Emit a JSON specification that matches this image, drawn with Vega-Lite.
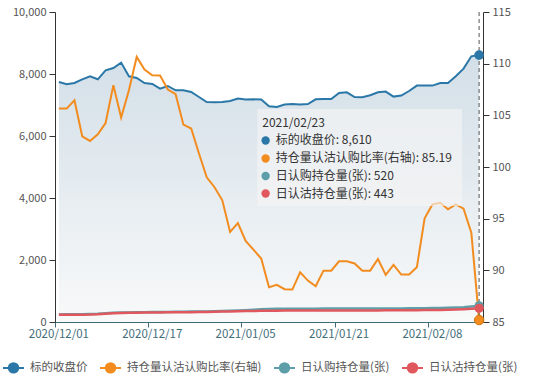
{
  "$schema": "https://vega.github.io/schema/vega-lite/v6.json",
  "width": 428,
  "height": 310,
  "autosize": {"type": "none"},
  "padding": {"left": 55, "top": 12, "right": 60, "bottom": 59},
  "config": {
    "font": "Noto Sans CJK SC",
    "view": {"stroke": null},
    "axis": {"grid": false, "labelFontSize": 11, "title": null, "domainColor": "#333", "tickColor": "#333", "labelColor": "#555", "tickSize": 6, "labelPadding": 3}
  },
  "datasets": {
    "main": [
      {"date": "2020/12/01", "c": 7742, "r": 105.65, "call": 245, "put": 232},
      {"date": "2020/12/02", "c": 7667, "r": 105.65, "call": 246, "put": 233},
      {"date": "2020/12/03", "c": 7710, "r": 106.46, "call": 248, "put": 235},
      {"date": "2020/12/04", "c": 7829, "r": 102.97, "call": 250, "put": 237},
      {"date": "2020/12/07", "c": 7925, "r": 102.52, "call": 255, "put": 240},
      {"date": "2020/12/08", "c": 7829, "r": 103.16, "call": 265, "put": 250},
      {"date": "2020/12/09", "c": 8119, "r": 104.26, "call": 282, "put": 268},
      {"date": "2020/12/10", "c": 8194, "r": 107.91, "call": 296, "put": 282},
      {"date": "2020/12/11", "c": 8367, "r": 104.78, "call": 304, "put": 292},
      {"date": "2020/12/14", "c": 7925, "r": 107.42, "call": 310, "put": 298},
      {"date": "2020/12/15", "c": 7871, "r": 110.65, "call": 314, "put": 302},
      {"date": "2020/12/16", "c": 7710, "r": 109.43, "call": 318, "put": 305},
      {"date": "2020/12/17", "c": 7677, "r": 108.87, "call": 320, "put": 307},
      {"date": "2020/12/18", "c": 7529, "r": 108.85, "call": 323, "put": 310},
      {"date": "2020/12/21", "c": 7613, "r": 107.49, "call": 326, "put": 312},
      {"date": "2020/12/22", "c": 7474, "r": 107.04, "call": 329, "put": 314},
      {"date": "2020/12/23", "c": 7474, "r": 104.1, "call": 332, "put": 316},
      {"date": "2020/12/24", "c": 7419, "r": 103.72, "call": 335, "put": 318},
      {"date": "2020/12/25", "c": 7258, "r": 101.3, "call": 338, "put": 320},
      {"date": "2020/12/28", "c": 7097, "r": 99.0, "call": 342, "put": 325},
      {"date": "2020/12/29", "c": 7087, "r": 98.04, "call": 348, "put": 330},
      {"date": "2020/12/30", "c": 7097, "r": 96.78, "call": 355, "put": 336},
      {"date": "2020/12/31", "c": 7129, "r": 93.71, "call": 363, "put": 342},
      {"date": "2021/01/04", "c": 7206, "r": 94.58, "call": 372, "put": 348},
      {"date": "2021/01/05", "c": 7174, "r": 92.84, "call": 382, "put": 352},
      {"date": "2021/01/06", "c": 7184, "r": 92.0, "call": 395, "put": 356},
      {"date": "2021/01/07", "c": 7174, "r": 91.14, "call": 408, "put": 360},
      {"date": "2021/01/08", "c": 6958, "r": 88.37, "call": 418, "put": 364},
      {"date": "2021/01/11", "c": 6935, "r": 88.6, "call": 424, "put": 366},
      {"date": "2021/01/12", "c": 7013, "r": 88.17, "call": 426, "put": 367},
      {"date": "2021/01/13", "c": 7032, "r": 88.14, "call": 428, "put": 368},
      {"date": "2021/01/14", "c": 7013, "r": 89.81, "call": 429, "put": 368},
      {"date": "2021/01/15", "c": 7032, "r": 89.01, "call": 430, "put": 369},
      {"date": "2021/01/18", "c": 7184, "r": 88.46, "call": 431, "put": 370},
      {"date": "2021/01/19", "c": 7194, "r": 89.97, "call": 432, "put": 370},
      {"date": "2021/01/20", "c": 7194, "r": 89.97, "call": 432, "put": 371},
      {"date": "2021/01/21", "c": 7387, "r": 90.87, "call": 433, "put": 372},
      {"date": "2021/01/22", "c": 7410, "r": 90.87, "call": 434, "put": 372},
      {"date": "2021/01/25", "c": 7258, "r": 90.67, "call": 434, "put": 373},
      {"date": "2021/01/26", "c": 7248, "r": 89.97, "call": 435, "put": 373},
      {"date": "2021/01/27", "c": 7313, "r": 89.97, "call": 436, "put": 374},
      {"date": "2021/01/28", "c": 7410, "r": 91.1, "call": 437, "put": 375},
      {"date": "2021/01/29", "c": 7432, "r": 89.56, "call": 438, "put": 376},
      {"date": "2021/02/01", "c": 7271, "r": 90.52, "call": 438, "put": 377},
      {"date": "2021/02/02", "c": 7303, "r": 89.59, "call": 439, "put": 378},
      {"date": "2021/02/03", "c": 7452, "r": 89.59, "call": 440, "put": 379},
      {"date": "2021/02/04", "c": 7626, "r": 90.29, "call": 442, "put": 381},
      {"date": "2021/02/05", "c": 7626, "r": 95.04, "call": 445, "put": 384},
      {"date": "2021/02/08", "c": 7626, "r": 96.38, "call": 448, "put": 387},
      {"date": "2021/02/09", "c": 7710, "r": 96.54, "call": 452, "put": 390},
      {"date": "2021/02/10", "c": 7710, "r": 95.9, "call": 456, "put": 394},
      {"date": "2021/02/18", "c": 7926, "r": 96.38, "call": 465, "put": 400},
      {"date": "2021/02/19", "c": 8174, "r": 95.96, "call": 478, "put": 410},
      {"date": "2021/02/22", "c": 8571, "r": 93.65, "call": 498, "put": 425},
      {"date": "2021/02/23", "c": 8610, "r": 85.19, "call": 520, "put": 443}
    ]
  },
  "data": {"name": "main"},
  "encoding": {
    "x": {
      "field": "date", "type": "ordinal",
      "scale": {"type": "band", "paddingInner": 0, "paddingOuter": 0},
      "axis": {
        "values": ["2020/12/01", "2020/12/17", "2021/01/05", "2021/01/21", "2021/02/08"],
        "bandPosition": 0, "labelAngle": 0, "labelColor": "#3f6e7a", "domainColor": "#3f6e7a", "tickColor": "#3f6e7a",
        "tickSize": 5, "labelPadding": 1, "labelFontSize": 11.5, "grid": false
      }
    }
  },
  "layer": [
    {
      "layer": [
        {
          "mark": {"type": "area", "color": {"gradient": "linear", "x1": 0, "y1": 0, "x2": 0, "y2": 1, "stops": [{"offset": 0, "color": "#d3dfe8"}, {"offset": 1, "color": "#f8f9f9"}]}},
          "encoding": {
            "y": {"field": "c", "type": "quantitative", "scale": {"domain": [0, 10000], "nice": false}, "axis": {"values": [0, 2000, 4000, 6000, 8000, 10000], "format": ",d"}}
          }
        },
        {
          "mark": {"type": "line", "strokeWidth": 2.5},
          "encoding": {
            "y": {"field": "call", "type": "quantitative", "scale": {"domain": [0, 10000], "nice": false}},
            "color": {"datum": "日认购持仓量(张)", "type": "nominal"}
          }
        },
        {
          "mark": {"type": "line", "strokeWidth": 2.5},
          "encoding": {
            "y": {"field": "put", "type": "quantitative", "scale": {"domain": [0, 10000], "nice": false}},
            "color": {"datum": "日认沽持仓量(张)", "type": "nominal"}
          }
        },
        {
          "mark": {"type": "line", "strokeWidth": 2},
          "encoding": {
            "y": {"field": "c", "type": "quantitative", "scale": {"domain": [0, 10000], "nice": false}},
            "color": {
              "datum": "标的收盘价", "type": "nominal",
              "scale": {
                "domain": ["标的收盘价", "持仓量认沽认购比率(右轴)", "日认购持仓量(张)", "日认沽持仓量(张)"],
                "range": ["#2b78a8", "#f28c1f", "#5d9ea9", "#e0585d"]
              },
              "legend": {
                "orient": "none", "legendX": -53, "legendY": 344, "direction": "horizontal", "title": null,
                "symbolType": "M-1,0L-0.45,0M0.45,0L1,0M-0.45,0A0.45,0.45,0,1,1,0.45,0A0.45,0.45,0,1,1,-0.45,0",
                "symbolSize": 440, "symbolStrokeWidth": 2, "labelFontSize": 11.5, "labelColor": "#555",
                "labelOffset": 5, "columnPadding": 8,
                "encode": {"symbols": {"update": {"fill": {"scale": "color", "field": "value"}, "fillOpacity": {"value": 1}}}}
              }
            }
          }
        }
      ]
    },
    {
      "layer": [
        {
          "mark": {"type": "line", "strokeWidth": 2},
          "encoding": {
            "y": {"field": "r", "type": "quantitative", "scale": {"domain": [85, 115], "nice": false}, "axis": {"orient": "right", "values": [85, 90, 95, 100, 105, 110, 115], "format": "d"}},
            "color": {"datum": "持仓量认沽认购比率(右轴)", "type": "nominal"}
          }
        }
      ]
    },
    {
      "layer": [
        {
          "data": {"values": [{}]},
          "mark": {"type": "rect", "fill": "#f4f4f4", "opacity": 0.65},
          "encoding": {
            "x": {"datum": "2021/01/07", "type": "ordinal", "bandPosition": 0},
            "x2": {"datum": "2021/02/19", "bandPosition": 0.3},
            "y": {"datum": 6871, "type": "quantitative", "scale": {"domain": [0, 10000], "nice": false}, "axis": null},
            "y2": {"datum": 3740}
          }
        },
        {
          "data": {"values": [{}]},
          "mark": {"type": "text", "text": "2021/02/23", "align": "left", "baseline": "middle", "fontSize": 12, "color": "#333", "dx": 1},
          "encoding": {
            "x": {"datum": "2021/01/07", "type": "ordinal"},
            "y": {"datum": 6419, "type": "quantitative", "scale": {"domain": [0, 10000], "nice": false}, "axis": null}
          }
        },
        {
          "data": {"values": [{}]},
          "mark": {"type": "text", "text": ["标的收盘价: 8,610", "持仓量认沽认购比率(右轴): 85.19", "日认购持仓量(张): 520", "日认沽持仓量(张): 443"], "lineHeight": 17.7, "align": "left", "baseline": "middle", "fontSize": 12, "color": "#333", "dx": 14.5},
          "encoding": {
            "x": {"datum": "2021/01/07", "type": "ordinal"},
            "y": {"datum": 5855, "type": "quantitative", "scale": {"domain": [0, 10000], "nice": false}, "axis": null}
          }
        },
        {
          "data": {"values": [{}]},
          "mark": {"type": "point", "shape": "circle", "filled": true, "opacity": 1, "size": 70, "color": "#2b78a8", "xOffset": 4.4},
          "encoding": {
            "x": {"datum": "2021/01/07", "type": "ordinal"},
            "y": {"datum": 5855, "type": "quantitative", "scale": {"domain": [0, 10000], "nice": false}, "axis": null}
          }
        },
        {
          "data": {"values": [{}]},
          "mark": {"type": "point", "shape": "circle", "filled": true, "opacity": 1, "size": 70, "color": "#f28c1f", "xOffset": 4.4},
          "encoding": {
            "x": {"datum": "2021/01/07", "type": "ordinal"},
            "y": {"datum": 5274, "type": "quantitative", "scale": {"domain": [0, 10000], "nice": false}, "axis": null}
          }
        },
        {
          "data": {"values": [{}]},
          "mark": {"type": "point", "shape": "circle", "filled": true, "opacity": 1, "size": 70, "color": "#5d9ea9", "xOffset": 4.4},
          "encoding": {
            "x": {"datum": "2021/01/07", "type": "ordinal"},
            "y": {"datum": 4710, "type": "quantitative", "scale": {"domain": [0, 10000], "nice": false}, "axis": null}
          }
        },
        {
          "data": {"values": [{}]},
          "mark": {"type": "point", "shape": "circle", "filled": true, "opacity": 1, "size": 70, "color": "#e0585d", "xOffset": 4.4},
          "encoding": {
            "x": {"datum": "2021/01/07", "type": "ordinal"},
            "y": {"datum": 4145, "type": "quantitative", "scale": {"domain": [0, 10000], "nice": false}, "axis": null}
          }
        },
        {
          "data": {"values": [{}]},
          "mark": {"type": "rule", "color": "#555", "strokeDash": [4, 3], "strokeWidth": 1},
          "encoding": {
            "x": {"datum": "2021/02/23", "type": "ordinal", "bandPosition": 0.5}
          }
        },
        {
          "transform": [{"filter": "datum.date == '2021/02/23'"}],
          "mark": {"type": "point", "shape": "circle", "filled": true, "opacity": 1, "size": 85, "color": "#5d9ea9"},
          "encoding": {
            "y": {"field": "call", "type": "quantitative", "scale": {"domain": [0, 10000], "nice": false}, "axis": null}
          }
        },
        {
          "transform": [{"filter": "datum.date == '2021/02/23'"}],
          "mark": {"type": "point", "shape": "circle", "filled": true, "opacity": 1, "size": 85, "color": "#e0585d"},
          "encoding": {
            "y": {"field": "put", "type": "quantitative", "scale": {"domain": [0, 10000], "nice": false}, "axis": null}
          }
        },
        {
          "transform": [{"filter": "datum.date == '2021/02/23'"}],
          "mark": {"type": "point", "shape": "circle", "filled": true, "opacity": 1, "size": 95, "color": "#2b78a8"},
          "encoding": {
            "y": {"field": "c", "type": "quantitative", "scale": {"domain": [0, 10000], "nice": false}, "axis": null}
          }
        }
      ]
    },
    {
      "transform": [{"filter": "datum.date == '2021/02/23'"}],
      "mark": {"type": "point", "shape": "circle", "filled": true, "opacity": 1, "size": 90, "color": "#f28c1f", "stroke": "#d27510", "strokeWidth": 1},
      "encoding": {
        "y": {"field": "r", "type": "quantitative", "scale": {"domain": [85, 115], "nice": false}, "axis": null}
      }
    }
  ],
  "resolve": {"scale": {"y": "independent"}}
}
